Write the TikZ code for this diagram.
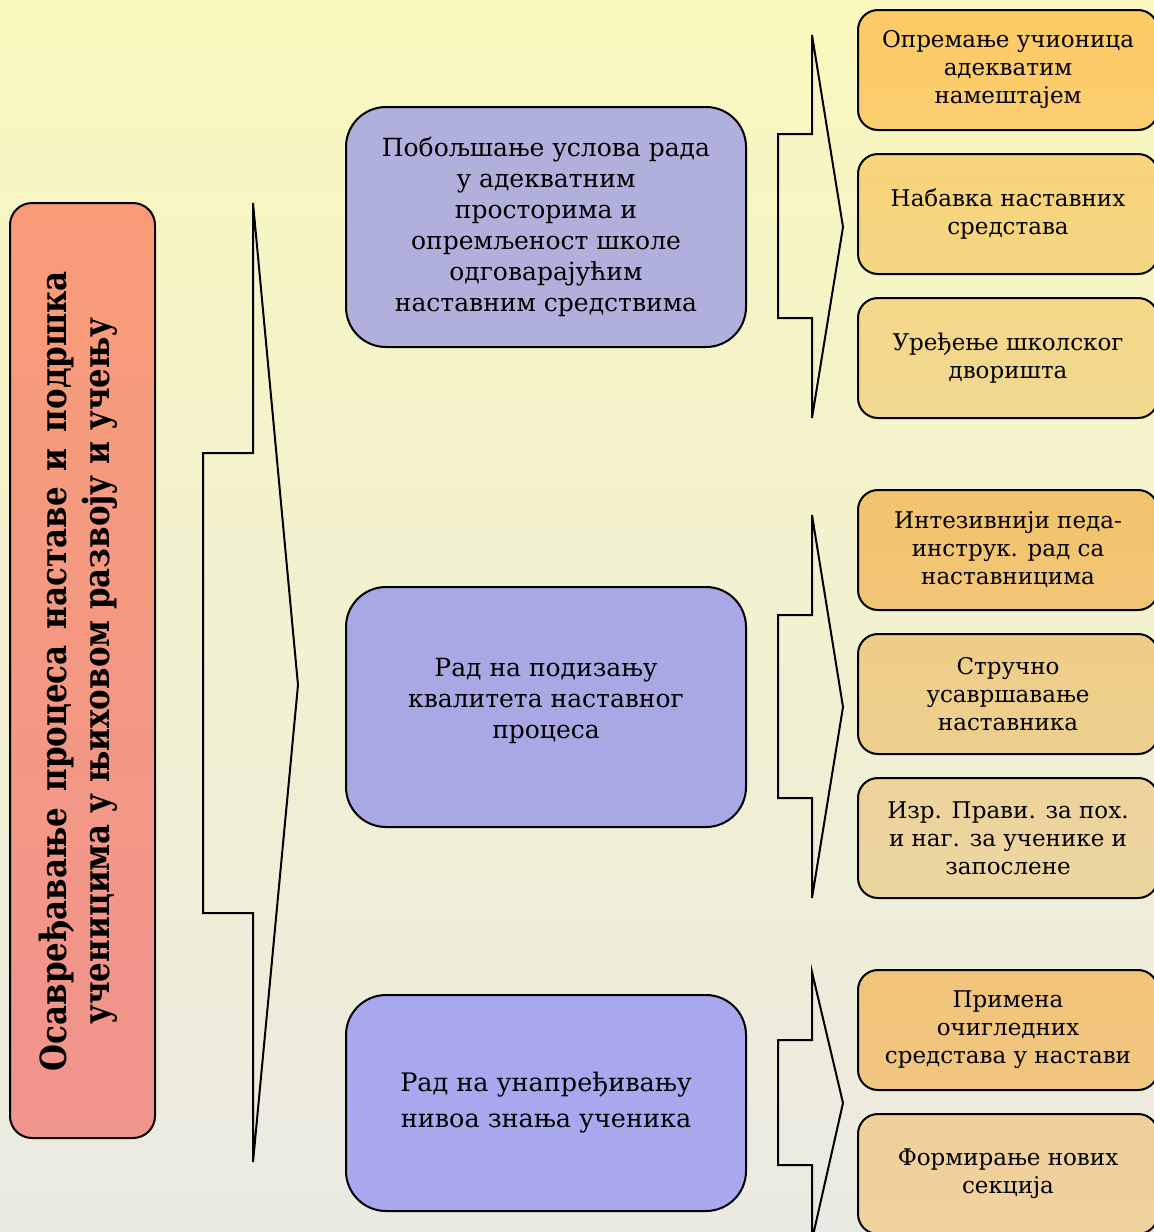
\documentclass[tikz,border=0pt]{standalone}
\usepackage{fontspec}
\setmainfont{DejaVu Serif}
\definecolor{bgtop}{RGB}{249,248,190}
\definecolor{bgbot}{RGB}{235,234,226}
\definecolor{ltop}{RGB}{248,156,120}
\definecolor{lbot}{RGB}{240,148,142}
\definecolor{mA}{RGB}{176,176,220}
\definecolor{mB}{RGB}{168,168,228}
\definecolor{mC}{RGB}{168,168,238}
\newlength\linetwow
\newcommand\mainfont{\fontsize{36}{43}\bfseries\selectfont}
\newcommand\maintxt{%
  \settowidth\linetwow{\mainfont ученицима у њиховом развоју и учењу}%
  \pgfmathsetmacro\sfac{707/\linetwow}%
  \pgfmathsetmacro\wone{800/\sfac}%
  \scalebox{\sfac}[1]{\mainfont\begin{tabular}{@{}c@{}}%
    \makebox[\wone pt][s]{Осавређавање процеса наставе и подршка}\\
    ученицима у њиховом развоју и учењу\end{tabular}}}
\tikzset{
  bracket/.style={draw=black, line width=2pt, line join=miter},
  midbox/.style={draw=black, line width=2pt, rounded corners=40pt, minimum width=400pt, minimum height=240pt, align=center, font=\fontsize{25}{31}\selectfont, inner sep=0pt},
  rbox/.style={draw=black, line width=2pt, rounded corners=20pt, minimum width=300pt, minimum height=120pt, align=center, font=\fontsize{23}{28}\selectfont, inner sep=0pt},
}
\begin{document}
\begin{tikzpicture}[x=1pt,y=-1pt]
\useasboundingbox (0,0) rectangle (1154,1232);
\shade[top color=bgtop, bottom color=bgbot] (0,0) rectangle (1154,1232);
\clip (0,0) rectangle (1154,1232);

% left main box
\node[draw=black, line width=2pt, rounded corners=22pt, minimum width=145pt, minimum height=935pt, top color=ltop, bottom color=lbot, inner sep=0pt] (main) at (82.5,670.5) {};
\node[rotate=90, inner sep=0pt] (maintext) at (79,671) {\maintxt};

% big bracket
\draw[bracket] (253,203) -- (253,453) -- (203,453) -- (203,913) -- (253,913) -- (253,1162) -- (298,685) -- cycle;

% middle boxes
\node[midbox, top color=mA, bottom color=mA] (m1) at (546,227) {Побољшање услова рада\\у адекватним\\просторима и\\опремљеност школе\\одговарајућим\\наставним средствима};
\node[midbox, top color=mB, bottom color=mB] (m2) at (546,707) {};
\node[align=center, font=\fontsize{25}{31}\selectfont, inner sep=0pt] (m2t) at ([yshift=6pt]m2.center) {Рад на подизању\\квалитета наставног\\процеса};
\node[midbox, minimum height=216pt, top color=mC, bottom color=mC, font=\fontsize{25.5}{36}\selectfont] (m3) at (546,1103) {Рад на унапређивању\\нивоа знања ученика};

% small brackets
\draw[bracket] (812,35) -- (812,134) -- (778,134) -- (778,318) -- (812,318) -- (812,418) -- (843,227) -- cycle;
\draw[bracket] (812,515) -- (812,615) -- (778,615) -- (778,798) -- (812,798) -- (812,898) -- (843,707) -- cycle;
\draw[bracket] (812,972) -- (812,1040) -- (778,1040) -- (778,1165) -- (812,1165) -- (812,1240) -- (843,1103) -- cycle;

% right boxes
\node[rbox, top color={rgb,255:red,253;green,202;blue,100}, bottom color={rgb,255:red,251;green,206;blue,112}] (r11) at (1008,70) {Опремање учионица\\адекватим\\намештајем};
\node[rbox, top color={rgb,255:red,248;green,212;blue,122}, bottom color={rgb,255:red,245;green,214;blue,132}] (r12) at (1008,214) {Набавка наставних\\средстава};
\node[rbox, top color={rgb,255:red,245;green,216;blue,137}, bottom color={rgb,255:red,240;green,216;blue,144}] (r13) at (1008,358) {Уређење школског\\дворишта};

\node[rbox, top color={rgb,255:red,243;green,196;blue,108}, bottom color={rgb,255:red,240;green,197;blue,117}] (r21) at (1008,550) {Интезивнији педа-\\инструк. рад са\\наставницима};
\node[rbox, top color={rgb,255:red,239;green,205;blue,136}, bottom color={rgb,255:red,236;green,207;blue,142}] (r22) at (1008,694) {Стручно\\усавршавање\\наставника};
\node[rbox, top color={rgb,255:red,237;green,211;blue,156}, bottom color={rgb,255:red,236;green,214;blue,160}] (r23) at (1008,838) {Изр. Прави. за пох.\\и наг. за ученике и\\запослене};

\node[rbox, top color={rgb,255:red,242;green,196;blue,122}, bottom color={rgb,255:red,240;green,198;blue,128}] (r31) at (1008,1030) {Примена\\очигледних\\средстава у настави};
\node[rbox, top color={rgb,255:red,240;green,208;blue,154}, bottom color={rgb,255:red,240;green,210;blue,156}] (r32) at (1008,1174) {Формирање нових\\секција};
\end{tikzpicture}
\end{document}
